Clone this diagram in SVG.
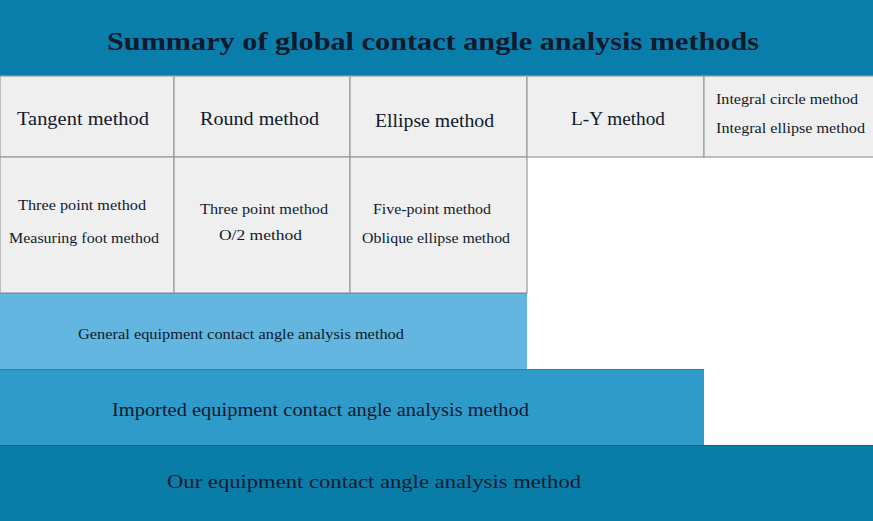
<svg xmlns="http://www.w3.org/2000/svg" width="873" height="521" viewBox="0 0 873 521">
<style>
.cell{fill:#efefef;stroke:#9a9a9a;stroke-width:1.2}
.t{font-family:"Liberation Serif","DejaVu Serif",serif;fill:#101a2c}
.c{font-size:18px}
.s{font-size:15.5px}
.b{font-size:18px}
</style>
<rect width="873" height="521" fill="#ffffff"/>
<g id="header">
<rect x="0" y="0" width="873" height="76" fill="#0a7eab"/>
<text class="t" x="107" y="50" font-size="26" font-weight="bold" textLength="652" lengthAdjust="spacingAndGlyphs">Summary of global contact angle analysis methods</text>
</g>
<g id="tangent">
<rect class="cell" x="0" y="76" width="174" height="81"/>
<text class="t c" x="17" y="125" textLength="132" lengthAdjust="spacingAndGlyphs">Tangent method</text>
</g>
<g id="round">
<rect class="cell" x="174" y="76" width="176" height="81"/>
<text class="t c" x="200" y="125" textLength="119" lengthAdjust="spacingAndGlyphs">Round method</text>
</g>
<g id="ellipse">
<rect class="cell" x="350" y="76" width="177" height="81"/>
<text class="t c" x="375" y="127" textLength="119" lengthAdjust="spacingAndGlyphs">Ellipse method</text>
</g>
<g id="ly">
<rect class="cell" x="527" y="76" width="177" height="81"/>
<text class="t c" x="571" y="125" textLength="94" lengthAdjust="spacingAndGlyphs">L-Y method</text>
</g>
<g id="integral">
<rect class="cell" x="704" y="76" width="172" height="81"/>
<text class="t s" x="716" y="104" textLength="142" lengthAdjust="spacingAndGlyphs">Integral circle method</text>
<text class="t s" x="716" y="133" textLength="149" lengthAdjust="spacingAndGlyphs">Integral ellipse method</text>
</g>
<g id="tangent-sub">
<rect class="cell" x="0" y="157" width="174" height="136"/>
<text class="t s" x="18" y="210" textLength="128" lengthAdjust="spacingAndGlyphs">Three point method</text>
<text class="t s" x="9" y="243" textLength="150" lengthAdjust="spacingAndGlyphs">Measuring foot method</text>
</g>
<g id="round-sub">
<rect class="cell" x="174" y="157" width="176" height="136"/>
<text class="t s" x="200" y="214" textLength="128" lengthAdjust="spacingAndGlyphs">Three point method</text>
<text class="t s" x="219" y="240" textLength="83" lengthAdjust="spacingAndGlyphs">O/2 method</text>
</g>
<g id="ellipse-sub">
<rect class="cell" x="350" y="157" width="177" height="136"/>
<text class="t s" x="373" y="214" textLength="118" lengthAdjust="spacingAndGlyphs">Five-point method</text>
<text class="t s" x="362" y="243" textLength="148" lengthAdjust="spacingAndGlyphs">Oblique ellipse method</text>
</g>
<g id="general">
<rect x="0" y="293" width="527" height="76" fill="#62b6e0"/>
<line x1="0" y1="293.5" x2="527" y2="293.5" stroke="#4a9dc8" stroke-width="1"/>
<text class="t s" x="78" y="339" textLength="326" lengthAdjust="spacingAndGlyphs">General equipment contact angle analysis method</text>
</g>
<g id="imported">
<rect x="0" y="369" width="704" height="76" fill="#2f9bcb"/>
<line x1="0" y1="369.5" x2="704" y2="369.5" stroke="#2482ad" stroke-width="1"/>
<text class="t b" x="112" y="416" textLength="417" lengthAdjust="spacingAndGlyphs">Imported equipment contact angle analysis method</text>
</g>
<g id="ours">
<rect x="0" y="445" width="873" height="76" fill="#0a7ca8"/>
<line x1="0" y1="445.5" x2="873" y2="445.5" stroke="#08688e" stroke-width="1"/>
<text class="t b" x="167" y="488" textLength="414" lengthAdjust="spacingAndGlyphs">Our equipment contact angle analysis method</text>
</g>
<g id="connectors"></g>
</svg>
